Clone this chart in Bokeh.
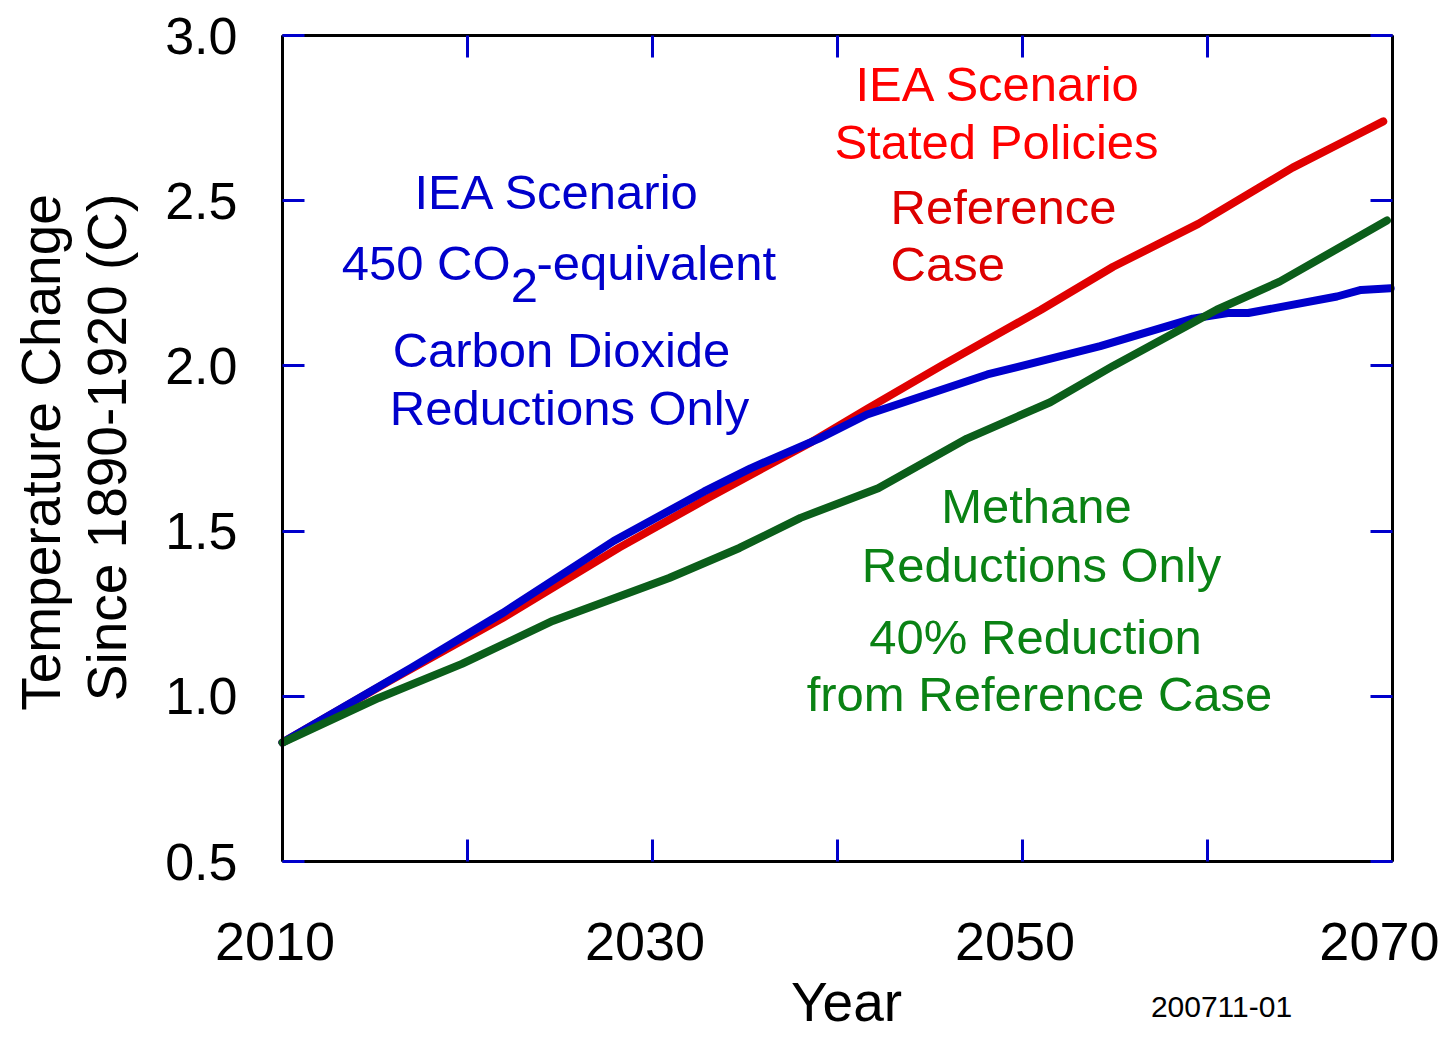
import math
from bokeh.plotting import figure
from bokeh.models import LinearAxis, FixedTicker, Label, Range1d
from bokeh.embed import file_html
from bokeh.resources import INLINE

# ---- data ----
years_ref = [2010, 2015.8, 2021.9, 2028.2, 2033.0, 2038.6, 2041.6, 2045.6, 2051.0, 2054.9, 2059.5, 2064.6, 2067.4, 2069.5]
temp_ref = [0.86, 1.047, 1.237, 1.45, 1.60, 1.77, 1.87, 2.00, 2.17, 2.30, 2.43, 2.60, 2.68, 2.74]

years_co2 = [2010, 2016.95, 2021.9, 2027.9, 2032.8, 2035.3, 2039.0, 2041.6, 2048.1, 2054.2, 2059.2, 2061.1, 2062.2, 2067.0, 2068.3, 2069.9]
temp_co2 = [0.86, 1.086, 1.252, 1.47, 1.62, 1.69, 1.78, 1.853, 1.974, 2.06, 2.143, 2.16, 2.16, 2.21, 2.23, 2.235]

years_ch4 = [2010, 2015.2, 2019.7, 2024.6, 2030.9, 2034.7, 2038.0, 2042.2, 2047.0, 2051.5, 2054.9, 2060.5, 2063.9, 2069.7]
temp_ch4 = [0.86, 0.995, 1.098, 1.228, 1.358, 1.449, 1.54, 1.63, 1.78, 1.89, 2.00, 2.17, 2.255, 2.44]

x_major = [2010, 2030, 2050, 2070]
x_major_labels = ["2010", "2030", "2050", "2070"]
x_minor = [2020, 2040, 2060]
y_ticks = [0.5, 1.0, 1.5, 2.0, 2.5, 3.0]
y_tick_labels = ["0.5", "1.0", "1.5", "2.0", "2.5", "3.0"]

X0, X1 = 2010, 2070
Y0, Y1 = 0.5, 3.0

# ---- layout (pixels) ----
W, H = 1439, 1036
BOX_L, BOX_R, BOX_T, BOX_B = 282, 1392, 35, 861
sx = (BOX_R - BOX_L) / (X1 - X0)
sy = (BOX_B - BOX_T) / (Y1 - Y0)
x_start = X0 - BOX_L / sx
x_end = X1 + (W - BOX_R) / sx
y_start = Y0 - (H - BOX_B) / sy
y_end = Y1 + BOX_T / sy


def DX(px):
    return x_start + px / sx


def DY(py):
    return y_end - py / sy


FONT = "Liberation Sans"
BLUE = "#0000CC"
RED_LINE = "#E00000"
RED_TXT = "#FF0000"
RED_TXT2 = "#DD0000"
GREEN_LINE = "#0B5E1A"
GREEN_TXT = "#0A8214"
NB = "\u00a0"

p = figure(width=W, height=H,
           x_range=Range1d(x_start, x_end), y_range=Range1d(y_start, y_end),
           output_backend="svg", toolbar_location=None,
           min_border_left=0, min_border_right=0,
           min_border_top=0, min_border_bottom=0,
           x_axis_location=None, y_axis_location=None)
p.grid.visible = False
p.outline_line_color = None
p.background_fill_color = "white"
p.border_fill_color = "white"


def style_axis(ax):
    ax.axis_line_color = "black"
    ax.axis_line_width = 3
    ax.major_tick_in = 22
    ax.major_tick_out = 0
    ax.major_tick_line_color = BLUE
    ax.major_tick_line_width = 3
    ax.minor_tick_in = 22
    ax.minor_tick_out = 0
    ax.minor_tick_line_color = BLUE
    ax.minor_tick_line_width = 3
    ax.major_label_text_font = FONT
    ax.major_label_text_color = "black"


bottom = LinearAxis(ticker=FixedTicker(ticks=x_major, minor_ticks=x_minor),
                    fixed_location=Y0, bounds=(X0, X1))
style_axis(bottom)
bottom.major_label_overrides = {t: (l + NB if t != X1 else l) for t, l in zip(x_major, x_major_labels)}
bottom.major_label_text_font_size = "54px"
bottom.major_label_standoff = 49
p.add_layout(bottom, "below")

top = LinearAxis(ticker=FixedTicker(ticks=[], minor_ticks=x_major + x_minor),
                 fixed_location=Y1, bounds=(X0, X1))
style_axis(top)
p.add_layout(top, "above")

left = LinearAxis(ticker=FixedTicker(ticks=y_ticks), fixed_location=X0, bounds=(Y0, Y1))
style_axis(left)
left.major_label_overrides = {t: l for t, l in zip(y_ticks, y_tick_labels)}
left.major_label_text_font_size = "52px"
left.major_label_standoff = 45
p.add_layout(left, "left")

right = LinearAxis(ticker=FixedTicker(ticks=[], minor_ticks=y_ticks), fixed_location=X1, bounds=(Y0, Y1))
style_axis(right)
p.add_layout(right, "right")

# lines (green drawn last, on top)
p.line(years_ref, temp_ref, line_color=RED_LINE, line_width=8, line_join="round", line_cap="round")
p.line(years_co2, temp_co2, line_color=BLUE, line_width=8, line_join="round", line_cap="round")
p.line(years_ch4, temp_ch4, line_color=GREEN_LINE, line_width=8, line_join="round", line_cap="round")

SHIFT = 0.38  # renderer places the alphabetic anchor this fraction of the size below the baseline


def lab(px, py, text, color, size=49, align="center", angle=0.0):
    if angle:
        px = px - SHIFT * size
    else:
        py = py - SHIFT * size
    p.add_layout(Label(x=DX(px), y=DY(py), text=text, text_color=color, text_font=FONT,
                       text_font_size=f"{size}px", text_align=align,
                       text_baseline="alphabetic", angle=angle))


# blue annotation
lab(557, 210, "IEA Scenario", BLUE)
lab(510, 281, "450 CO", BLUE, align="right")
lab(524, 304, "2", BLUE)
lab(536, 281, "-equivalent", BLUE, align="left")
lab(561, 368, "Carbon Dioxide", BLUE)
lab(569, 426, "Reductions Only", BLUE)

# red annotation
lab(998, 102, "IEA Scenario", RED_TXT)
lab(996, 160, "Stated Policies", RED_TXT)
lab(890, 225, "Reference", RED_TXT2, align="left")
lab(890, 282, "Case", RED_TXT2, align="left")

# green annotation
lab(1036, 524, "Methane", GREEN_TXT)
lab(1041, 583, "Reductions Only", GREEN_TXT)
lab(1035, 655, "40% Reduction", GREEN_TXT)
lab(1039, 712, "from Reference Case", GREEN_TXT)

# axis titles and note
lab(61, 452, "Temperature Change", "black", size=55, angle=math.pi / 2)
lab(127, 447, "Since 1890-1920 (C)", "black", size=55, angle=math.pi / 2)
lab(846, 1022, "Year", "black", size=55)
lab(1221, 1018, "200711-01", "black", size=30)

open("out.html", "w").write(file_html(p, INLINE))
